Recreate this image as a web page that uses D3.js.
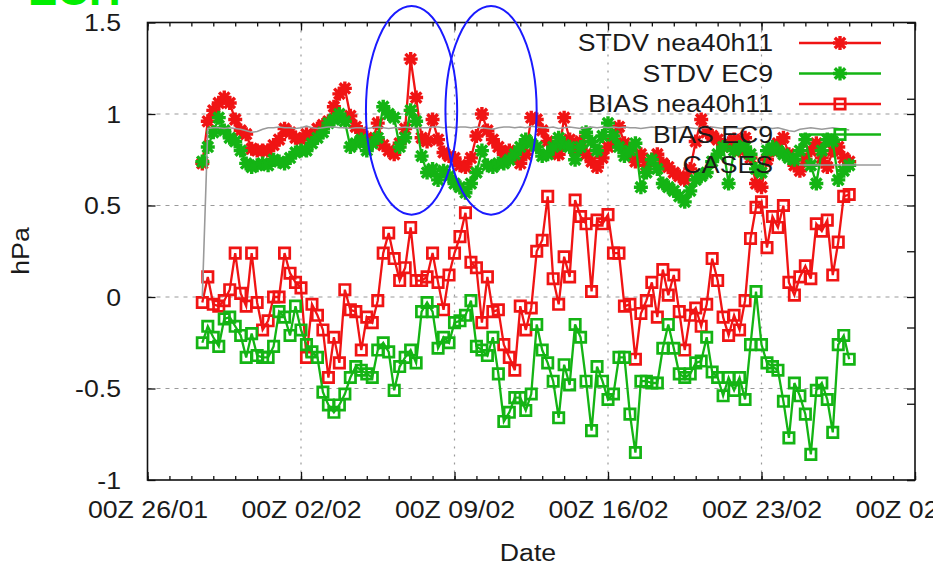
<!DOCTYPE html>
<html><head><meta charset="utf-8">
<script src="https://cdn.jsdelivr.net/npm/d3@7"></script>
<style>
body{margin:0;background:#fff}
svg{display:block}
text{font-family:"Liberation Sans",Arial,sans-serif;fill:#1a1a1a}
</style>
</head><body><svg id="c" width="933" height="565"></svg>
<script>
// ---------- data ----------
const seriesNames = ["STDV nea40h11", "STDV EC9", "BIAS nea40h11", "BIAS EC9", "CASES"];
const startTime = "2010-01-28T12:00:00Z";   // first verification time
const stepHours = 6;                        // 6-hourly verification

const stdvNea = [
  0.73, 0.96, 1.02, 1.06, 1.09, 1.06, 0.97, 0.91, 0.89, 0.81,
  0.80, 0.80, 0.80, 0.83, 0.86, 0.92, 0.90, 0.87, 0.86, 0.89,
  0.88, 0.92, 0.94, 0.96, 1.04, 1.11, 1.14, 0.99, 0.93, 0.90,
  0.87, 0.85, 0.95, 0.83, 0.80, 0.78, 0.84, 0.92, 1.30, 1.09,
  0.87, 0.85, 0.97, 0.86, 0.79, 0.77, 0.76, 0.72, 0.71, 0.76,
  0.88, 1.00, 0.91, 0.86, 0.82, 0.78, 0.80, 0.76, 0.73, 0.78,
  0.98, 0.97, 0.91, 0.85, 0.80, 0.78, 0.98, 0.86, 0.80, 0.85,
  0.78, 0.74, 0.71, 0.76, 0.82, 0.86, 0.93, 0.84, 0.78, 0.74,
  0.78, 0.72, 0.75, 0.78, 0.73, 0.71, 0.68, 0.66, 0.64, 0.70,
  0.85, 0.97, 0.90, 0.88, 0.86, 0.82, 0.84, 0.86, 0.80, 0.87,
  0.76, 0.62, 0.60, 0.75, 0.80, 0.84, 0.87, 0.78, 0.72, 0.69,
  0.75, 0.80, 0.84, 0.76, 0.71, 0.80, 0.82, 0.76, 0.74
];
const stdvEc9 = [
  0.74, 0.82, 0.90, 0.98, 0.91, 0.87, 0.85, 0.80, 0.73, 0.71,
  0.72, 0.73, 0.72, 0.75, 0.74, 0.73, 0.76, 0.79, 0.80, 0.80,
  0.84, 0.87, 0.90, 0.95, 0.97, 1.00, 0.96, 0.82, 0.84, 0.86,
  0.80, 0.84, 0.87, 1.04, 1.00, 0.98, 0.82, 0.87, 1.02, 0.96,
  0.77, 0.68, 0.70, 0.64, 0.69, 0.66, 0.62, 0.60, 0.57, 0.62,
  0.68, 0.80, 0.72, 0.71, 0.73, 0.73, 0.75, 0.78, 0.82, 0.86,
  0.84, 0.82, 0.77, 0.78, 0.82, 0.87, 0.83, 0.82, 0.75, 0.82,
  0.90, 0.85, 0.80, 0.88, 0.95, 0.88, 0.82, 0.77, 0.80, 0.84,
  0.60, 0.68, 0.75, 0.70, 0.62, 0.60, 0.58, 0.55, 0.52, 0.58,
  0.64, 0.66, 0.68, 0.74, 0.78, 0.82, 0.62, 0.80, 0.82, 0.82,
  0.78, 0.70, 0.68, 0.80, 0.82, 0.80, 0.78, 0.76, 0.75, 0.80,
  0.86, 0.72, 0.62, 0.80, 0.86, 0.85, 0.64, 0.69, 0.72
];
const biasNea = [
  -0.03, 0.11, -0.04, -0.05, -0.02, 0.04, 0.24, 0.02, -0.05, 0.24,
  -0.03, -0.18, -0.13, 0.00, 0.00, 0.24, 0.13, 0.08, 0.05, -0.33,
  -0.04, -0.10, -0.18, -0.44, -0.22, -0.36, 0.04, -0.07, -0.08, -0.29,
  -0.11, -0.14, -0.02, 0.24, 0.35, 0.21, 0.09, 0.16, 0.38, 0.09,
  0.09, 0.11, 0.24, 0.08, -0.07, 0.12, 0.24, 0.33, 0.46, 0.19,
  0.16, -0.14, 0.11, -0.08, -0.07, -0.26, -0.33, -0.40, -0.05, -0.18,
  -0.06, 0.25, 0.31, 0.55, 0.10, -0.04, 0.22, 0.11, 0.53, 0.44,
  0.40, 0.03, 0.42, 0.40, 0.45, 0.24, 0.24, -0.05, -0.04, -0.34,
  -0.09, -0.02, 0.08, -0.11, 0.15, 0.01, 0.12, -0.08, -0.29, -0.10,
  -0.06, -0.16, -0.04, 0.21, 0.09, -0.11, -0.21, -0.10, -0.18, -0.02,
  0.32, 0.49, 0.52, 0.27, 0.44, 0.38, 0.50, 0.08, 0.01, 0.11,
  0.17, 0.10, 0.40, 0.36, 0.42, 0.12, 0.30, 0.55, 0.56
];
const biasEc9 = [
  -0.25, -0.16, -0.22, -0.27, -0.12, -0.11, -0.16, -0.21, -0.33, -0.20,
  -0.32, -0.33, -0.33, -0.27, -0.08, -0.11, -0.21, -0.05, -0.18, -0.26,
  -0.30, -0.33, -0.52, -0.59, -0.63, -0.59, -0.53, -0.44, -0.38, -0.40,
  -0.42, -0.44, -0.29, -0.25, -0.30, -0.51, -0.38, -0.33, -0.29, -0.36,
  -0.08, -0.03, -0.08, -0.28, -0.22, -0.25, -0.14, -0.13, -0.10, -0.02,
  -0.27, -0.29, -0.32, -0.22, -0.42, -0.68, -0.63, -0.55, -0.55, -0.62,
  -0.53, -0.15, -0.29, -0.36, -0.46, -0.66, -0.37, -0.48, -0.15, -0.22,
  -0.46, -0.73, -0.38, -0.46, -0.56, -0.53, -0.33, -0.33, -0.64, -0.85,
  -0.46, -0.46, -0.47, -0.47, -0.28, -0.15, -0.28, -0.42, -0.44, -0.42,
  -0.36, -0.35, -0.22, -0.41, -0.44, -0.54, -0.44, -0.51, -0.44, -0.56,
  -0.26, 0.03, -0.26, -0.36, -0.38, -0.40, -0.57, -0.77, -0.47, -0.54,
  -0.64, -0.86, -0.51, -0.47, -0.56, -0.74, -0.26, -0.21, -0.34
];
const cases = [
  240, 461, 462, 462, 461, 462, 461, 460, 458, 456,
  457, 460, 462, 462, 463, 462, 462, 461, 462, 464,
  462, 461, 462, 463, 463, 462, 462, 461, 462, 462,
  461, 462, 463, 462, 461, 462, 462, 463, 462, 461,
  462, 462, 463, 463, 462, 463, 462, 463, 463, 462,
  463, 462, 461, 460, 462, 463, 463, 462, 463, 462,
  464, 463, 462, 462, 463, 461, 462, 463, 462, 461,
  462, 463, 462, 463, 462, 463, 462, 463, 462, 462,
  461, 462, 463, 462, 463, 462, 461, 462, 463, 462,
  461, 462, 462, 463, 462, 461, 462, 462, 461, 462,
  463, 462, 463, 462, 461, 462, 460, 458, 457, 460,
  461, 462, 461, 460, 461, 462, 461, 460, 459
];

const xDomain = ["2010-01-26T00:00:00Z", "2010-03-02T00:00:00Z"];
const xTickDates = ["2010-01-26T00:00:00Z", "2010-02-02T00:00:00Z", "2010-02-09T00:00:00Z",
                    "2010-02-16T00:00:00Z", "2010-02-23T00:00:00Z", "2010-03-02T00:00:00Z"];
const xTickLabels = ["00Z 26/01", "00Z 02/02", "00Z 09/02", "00Z 16/02", "00Z 23/02", "00Z 02/03"];
const yTicks = [-1, -0.5, 0, 0.5, 1, 1.5];
const yTickLabels = ["-1", "-0.5", "0", "0.5", "1", "1.5"];
const y2Ticks = [0, 100, 200, 300, 400, 500, 600];
// hand-drawn annotation ellipses: centre date, centre value, half-width (days), half-height (hPa)
const ellipseDates = ["2010-02-07T01:00:00Z", "2010-02-10T16:00:00Z"];
const ellipseValue = 1.02, ellipseHalfDays = 2.08, ellipseHalfValue = 0.57;

// ---------- layout ----------
const W = 933, H = 565;
const L = 147.5, R = 915, T = 22.5, B = 480;
const SX = 1.16; // horizontal stretch of the lettering
const RED = "#f01414", GREEN = "#14b414", GREY = "#9a9a9a";

const svg = d3.select("#c");
const parse = s => new Date(s);
const x = d3.scaleUtc().domain(xDomain.map(parse)).range([L, R]);
const y = d3.scaleLinear().domain([-1, 1.5]).range([B, T]);
const y2 = d3.scaleLinear().domain([0, 600]).range([B, T]);

const t0 = parse(startTime).getTime();
const timeAt = i => new Date(t0 + i * stepHours * 3600e3);

// ---------- grid ----------
const grid = svg.append("g");
grid.selectAll("line.h").data(yTicks.filter(v => v > -1 && v < 1.5)).join("line")
  .attr("x1", L).attr("x2", R).attr("y1", d => y(d)).attr("y2", d => y(d))
  .attr("stroke", GREY).attr("stroke-width", 1.2).attr("stroke-dasharray", "4,5");
grid.selectAll("line.v").data(xTickDates.slice(1, -1).map(parse)).join("line")
  .attr("y1", T).attr("y2", B).attr("x1", d => x(d)).attr("x2", d => x(d))
  .attr("stroke", GREY).attr("stroke-width", 1.2).attr("stroke-dasharray", "2,6");

// ---------- axes ----------
function styleAxis(g) { g.select(".domain").remove(); g.selectAll("line").attr("stroke", "#111").attr("stroke-width", 1.3); }

// bottom major
const xb = svg.append("g").attr("transform", `translate(0,${B})`)
  .call(d3.axisBottom(x).tickValues(xTickDates.map(parse)).tickSize(-8).tickFormat((d, i) => xTickLabels[i]));
styleAxis(xb);
xb.selectAll("text").attr("y", 38).attr("dy", null).attr("font-size", 23).attr("fill", "#1a1a1a")
  .attr("font-family", "Liberation Sans, Arial, sans-serif").attr("transform", `scale(${SX},1)`);
// bottom minor (daily)
styleAxis(svg.append("g").attr("transform", `translate(0,${B})`)
  .call(d3.axisBottom(x).ticks(d3.utcDay.every(1)).tickSize(-4).tickFormat("")));
// top mirror
styleAxis(svg.append("g").attr("transform", `translate(0,${T})`)
  .call(d3.axisTop(x).tickValues(xTickDates.map(parse)).tickSize(-8).tickFormat("")));
styleAxis(svg.append("g").attr("transform", `translate(0,${T})`)
  .call(d3.axisTop(x).ticks(d3.utcDay.every(1)).tickSize(-4).tickFormat("")));
// left
const yl = svg.append("g").attr("transform", `translate(${L},0)`)
  .call(d3.axisLeft(y).tickValues(yTicks).tickSize(-8).tickFormat((d, i) => yTickLabels[i]));
styleAxis(yl);
yl.selectAll("text").attr("x", -26.5 / SX).attr("dy", "0.35em").attr("font-size", 23).attr("fill", "#1a1a1a")
  .attr("font-family", "Liberation Sans, Arial, sans-serif").attr("transform", `scale(${SX},1)`);
// right: mirror of y and the CASES axis
styleAxis(svg.append("g").attr("transform", `translate(${R},0)`)
  .call(d3.axisRight(y).tickValues(yTicks).tickSize(-8).tickFormat("")));
styleAxis(svg.append("g").attr("transform", `translate(${R},0)`)
  .call(d3.axisRight(y2).tickValues(y2Ticks).tickSize(-8).tickFormat("")));

// border
svg.append("rect").attr("x", L).attr("y", T).attr("width", R - L).attr("height", B - T)
  .attr("fill", "none").attr("stroke", "#111").attr("stroke-width", 1.6);

// ---------- axis titles ----------
function stretched(parent, str, px, py, anchor, size, extra) {
  const t = parent.append("text").attr("transform", `translate(${px},${py}) ${extra || ""} scale(${SX},1)`)
    .attr("text-anchor", anchor).attr("font-size", size).text(str);
  return t;
}
stretched(svg, "Date", 528, 561, "middle", 23);
stretched(svg, "hPa", 29, 251, "middle", 23, "rotate(-90)");

// title (cut off at the top of the picture)
svg.append("text").attr("x", 28).attr("y", 5).attr("font-size", 44).attr("font-weight", "bold")
  .attr("fill", "#00ee00").style("fill", "#00ee00").text("ECH");

// ---------- marks ----------
const starPath = "M-7,0H7M0,-7V7M-5.2,-5.2L5.2,5.2M-5.2,5.2L5.2,-5.2";
const squarePath = "M-5.2,-5.2H5.2V5.2H-5.2Z";

const line = d3.line().x((d, i) => x(timeAt(i))).y(d => y(d));
const series = [
  { name: seriesNames[0], values: stdvNea, color: RED, marker: starPath, mw: 3.4, fill: "none" },
  { name: seriesNames[1], values: stdvEc9, color: GREEN, marker: starPath, mw: 3.4, fill: "none" },
  { name: seriesNames[2], values: biasNea, color: RED, marker: squarePath, mw: 2.7, fill: "none" },
  { name: seriesNames[3], values: biasEc9, color: GREEN, marker: squarePath, mw: 2.7, fill: "none" }
];
const plot = svg.append("g");
series.forEach(s => {
  const g = plot.append("g");
  g.append("path").datum(s.values).attr("d", line).attr("fill", "none")
    .attr("stroke", s.color).attr("stroke-width", 2.3);
  g.selectAll("path.m").data(s.values).join("path").attr("class", "m")
    .attr("transform", (d, i) => `translate(${x(timeAt(i))},${y(d)})`)
    .attr("d", s.marker).attr("fill", s.fill).attr("stroke", s.color).attr("stroke-width", s.mw);
});
// CASES on second axis
plot.append("path").datum(cases)
  .attr("d", d3.line().x((d, i) => x(timeAt(i))).y(d => y2(d)))
  .attr("fill", "none").attr("stroke", GREY).attr("stroke-width", 1.6);

// ---------- legend ----------
const leg = svg.append("g");
const legEntries = [...series, { name: seriesNames[4], color: GREY, marker: null }];
legEntries.forEach((s, k) => {
  const cy = 43 + k * 30.5;
  stretched(leg, s.name, 773, cy + 8, "end", 23);
  leg.append("line").attr("x1", 799).attr("x2", 881).attr("y1", cy).attr("y2", cy)
    .attr("stroke", s.color).attr("stroke-width", s.marker ? 2.3 : 1.6);
  if (s.marker) leg.append("path").attr("transform", `translate(840,${cy})`).attr("d", s.marker)
    .attr("fill", "none").attr("stroke", s.color).attr("stroke-width", s.mw);
});

// ---------- annotation ellipses ----------
svg.append("g").selectAll("ellipse").data(ellipseDates.map(parse)).join("ellipse")
  .attr("cx", d => x(d))
  .attr("cy", y(ellipseValue))
  .attr("rx", d => x(new Date(d.getTime() + ellipseHalfDays * 86400e3)) - x(d))
  .attr("ry", y(0) - y(ellipseHalfValue))
  .attr("fill", "none").attr("stroke", "#1a1aff").attr("stroke-width", 2);
</script>
</body></html>
